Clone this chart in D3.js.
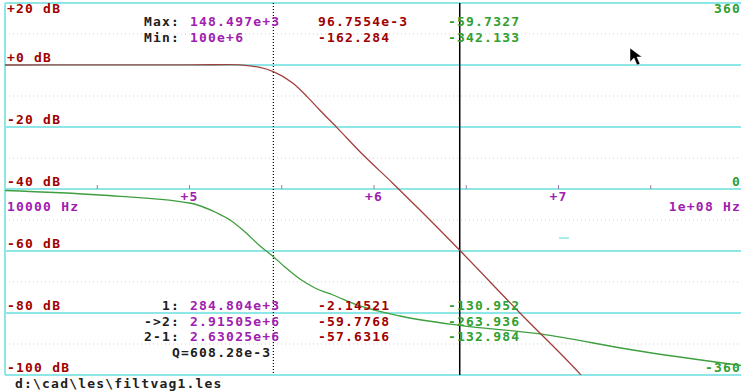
<!DOCTYPE html>
<html>
<head>
<meta charset="utf-8">
<script src="https://cdn.jsdelivr.net/npm/d3@7"></script>
<style>
  body { margin: 0; background: #fff; }
  svg text { font-family: "DejaVu Sans Mono", monospace; font-weight: bold; font-size: 13px; letter-spacing: 1.2px; }
</style>
</head>
<body>
<svg width="741" height="392"></svg>
<script>
// magnitude response
const magFreq = [1e4, 3.27e4, 1e5, 1.66e5, 2.13e5, 2.41e5, 2.848e5, 3.64e5, 4.34e5, 5.09e5, 6.3e5, 8.39e5, 1.267e6, 1.775e6, 2.915e6, 6.18e6, 1.31e7, 2e7, 5e7, 1e8];
const magDb   = [0, 0.02, 0.05, 0.097, -0.3, -0.8, -2.145, -5.9, -10.2, -14.6, -20.2, -28, -38.2, -46.8, -59.78, -80, -99.7, -112, -140, -162.28];

// phase response
const phFreq = [1e4, 3.27e4, 1e5, 1.41e5, 1.66e5, 2e5, 2.41e5, 2.848e5, 3.29e5, 3.97e5, 4.79e5, 6e5, 8.4e5, 1.383e6, 2.915e6, 7.94e6, 2.53e7, 1e8];
const phDeg  = [-2.9, -11.6, -27.1, -46.4, -60, -83.2, -110.3, -130.95, -151, -174.2, -191.6, -205.2, -226.4, -245.8, -263.94, -280.6, -311.6, -342.13];

const dbTicks = [20, 0, -20, -40, -60, -80, -100];
const dbMinor = [10, -10, -30, -50, -70, -90];
const decadeLabels = ["+5", "+6", "+7"];
const decades = [1e5, 1e6, 1e7];
const phaseLabels = [360, 0, -360];

const cursorFreq = [2.84804e5, 2.91505e6];
const rowNames = ["Max:", "Min:", "1:", "->2:", "2-1:"];
const colFreq = ["148.497e+3", "100e+6", "284.804e+3", "2.91505e+6", "2.63025e+6"];
const colMag  = ["96.7554e-3", "-162.284", "-2.14521", "-59.7768", "-57.6316"];
const colPh   = ["-59.7327", "-342.133", "-130.952", "-263.936", "-132.984"];

const svg = d3.select("svg");
const pL = 5, pR = 743, pT = 3, pB = 375;

const x = d3.scaleLog().domain([1e4, 1e8]).range([pL, pR]);
const yMag = d3.scaleLinear().domain([-100, 20]).range([pB, pT]);
const yPh = d3.scaleLinear().domain([-360, 360]).range([pB, pT]);

const red = "#a00000", purple = "#a020b0", green = "#30a030", ink = "#202020";

// minor dotted grid
svg.selectAll(".minor").data(dbMinor).enter().append("line")
  .attr("x1", pL).attr("x2", 741)
  .attr("y1", d => yMag(d)).attr("y2", d => yMag(d))
  .attr("stroke", "#cfcfcf").attr("stroke-width", 1).attr("stroke-dasharray", "1,3");

// major cyan grid
svg.selectAll(".major").data(dbTicks).enter().append("line")
  .attr("x1", pL).attr("x2", 741)
  .attr("y1", d => yMag(d)).attr("y2", d => yMag(d))
  .attr("stroke", "#8ee6e6").attr("stroke-width", 2);

svg.append("line").attr("x1", pL).attr("x2", pL).attr("y1", pT).attr("y2", pB)
  .attr("stroke", "#8ee6e6").attr("stroke-width", 2);

// half-decade ticks on the frequency axis
const tickPos = [];
for (let e = 4; e < 8; e++) { tickPos.push(e + 0.5); if (e > 4) tickPos.push(e); }
svg.selectAll(".xt").data(tickPos).enter().append("line")
  .attr("x1", d => x(Math.pow(10, d))).attr("x2", d => x(Math.pow(10, d)))
  .attr("y1", yMag(-40) - 4).attr("y2", yMag(-40))
  .attr("stroke", "#9a7aa8").attr("stroke-width", 1);

// cursors
svg.append("line").attr("x1", x(cursorFreq[0])).attr("x2", x(cursorFreq[0]))
  .attr("y1", pT).attr("y2", pB)
  .attr("stroke", "#000").attr("stroke-width", 1.2).attr("stroke-dasharray", "1,2");
svg.append("line").attr("x1", x(cursorFreq[1])).attr("x2", x(cursorFreq[1]))
  .attr("y1", pT).attr("y2", pB)
  .attr("stroke", "#000").attr("stroke-width", 1.5);

// curves
svg.append("clipPath").attr("id", "plot").append("rect")
  .attr("x", pL).attr("y", pT).attr("width", pR - pL).attr("height", pB - pT);

const magLine = d3.line().curve(d3.curveMonotoneX).x(d => x(d[0])).y(d => yMag(d[1]));
const phLine = d3.line().curve(d3.curveMonotoneX).x(d => x(d[0])).y(d => yPh(d[1]));

svg.append("path").datum(d3.zip(phFreq, phDeg)).attr("d", phLine)
  .attr("clip-path", "url(#plot)").attr("fill", "none")
  .attr("stroke", "#3f9f3f").attr("stroke-width", 1.3);
svg.append("path").datum(d3.zip(magFreq, magDb)).attr("d", magLine)
  .attr("clip-path", "url(#plot)").attr("fill", "none")
  .attr("stroke", "#a0403c").attr("stroke-width", 1.3);

// dB labels (the top one sits under its line)
svg.selectAll(".dbl").data(dbTicks).enter().append("text")
  .attr("x", 7).attr("y", d => d === 20 ? yMag(d) + 10 : yMag(d) - 3)
  .attr("fill", red)
  .text(d => (d >= 0 ? "+" : "") + d + " dB");

// phase labels
svg.selectAll(".phl").data(phaseLabels).enter().append("text")
  .attr("x", 741).attr("y", d => yPh(d) + (d === 360 ? 10 : -3))
  .attr("text-anchor", "end").attr("fill", green)
  .text(d => d);

// decade labels
svg.selectAll(".dec").data(decades).enter().append("text")
  .attr("x", d => x(d)).attr("y", yMag(-40) + 12)
  .attr("text-anchor", "middle").attr("fill", purple)
  .text((d, i) => decadeLabels[i]);

svg.append("text").attr("x", 7).attr("y", 211).attr("fill", purple).text("10000 Hz");
svg.append("text").attr("x", 741).attr("y", 211).attr("text-anchor", "end").attr("fill", purple).text("1e+08 Hz");

// readout table
const rowY = [26, 42, 310, 326, 341];
rowNames.forEach((n, i) => {
  svg.append("text").attr("x", 180).attr("y", rowY[i]).attr("text-anchor", "end").attr("fill", ink).text(n);
  svg.append("text").attr("x", 190).attr("y", rowY[i]).attr("fill", purple).text(colFreq[i]);
  svg.append("text").attr("x", 318).attr("y", rowY[i]).attr("fill", red).text(colMag[i]);
  svg.append("text").attr("x", 448).attr("y", rowY[i]).attr("fill", green).text(colPh[i]);
});
svg.append("text").attr("x", 172).attr("y", 357).attr("fill", ink).text("Q=608.28e-3");

svg.append("text").attr("x", 15).attr("y", 388).attr("fill", ink).text("d:\\cad\\les\\filtvag1.les");

// stray marker and mouse pointer
svg.append("line").attr("x1", 559).attr("x2", 569).attr("y1", 238).attr("y2", 238)
  .attr("stroke", "#8ee6e6").attr("stroke-width", 1.5);
svg.append("path").attr("d", "M630,48 L630,62 L634,58 L637,65 L640,64 L637,57 L642,57 Z")
  .attr("fill", "#000").attr("stroke", "#fff").attr("stroke-width", 0.5);
</script>
</body>
</html>
